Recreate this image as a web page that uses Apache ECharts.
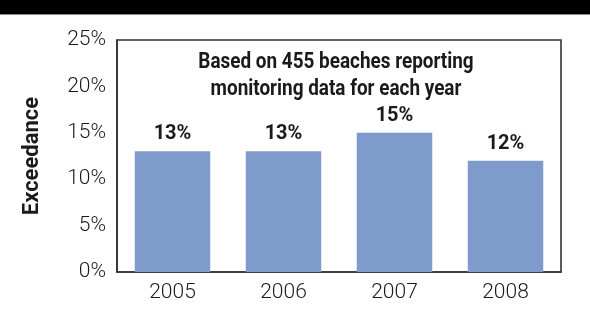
<!DOCTYPE html>
<html>
<head>
<meta charset="utf-8">
<script src="https://cdn.jsdelivr.net/npm/echarts@6/dist/echarts.min.js"></script>
<style>
  html, body { margin: 0; padding: 0; background: #fff; }
  #chart { width: 590px; height: 320px; }
</style>
</head>
<body>
<div id="chart"></div>
<script>
const years = ['2005', '2006', '2007', '2008'];
const exceedance = [13, 13, 15, 12];
const yTicks = { min: 0, max: 25, interval: 5 };
const noteLines = ['Based on 455 beaches reporting', 'monitoring data for each year'];

const chart = echarts.init(document.getElementById('chart'));
const grid = { left: 117, right: 29, top: 40, bottom: 48 };
const noteX = 336;

// Condensed bold note inside the plot, one text element per line
const noteGraphics = noteLines.map((line, i) => ({
  type: 'text',
  x: noteX, y: 62 + i * 27,
  scaleX: 0.86,
  style: {
    text: line, x: 0, y: 0,
    align: 'center', verticalAlign: 'middle',
    font: 'bold 22px Roboto', fill: '#1a1a1a'
  },
  z: 10
}));

chart.setOption({
  animation: false,
  grid: Object.assign({ show: true, borderColor: '#333', borderWidth: 1.6, backgroundColor: '#fff' }, grid),
  graphic: [
    { type: 'rect', left: 0, top: 0, shape: { width: 590, height: 14 }, style: { fill: '#000' } },
    { type: 'rect', left: 0, top: 14, shape: { width: 590, height: 1 }, style: { fill: '#888' } }
  ].concat(noteGraphics),
  xAxis: {
    type: 'category', data: years,
    axisLine: { show: true, lineStyle: { color: '#333', width: 1.6 } },
    axisTick: { show: false },
    axisLabel: { fontFamily: 'Roboto', fontWeight: 300, fontSize: 21, color: '#1a1a1a', margin: 10 }
  },
  yAxis: {
    type: 'value', min: yTicks.min, max: yTicks.max, interval: yTicks.interval,
    name: 'Exceedance', nameLocation: 'middle', nameGap: 74, nameRotate: 90,
    nameTextStyle: { fontFamily: 'Roboto', fontWeight: 'bold', fontSize: 22, color: '#1a1a1a' },
    axisLine: { show: true, lineStyle: { color: '#333', width: 1.6 } },
    axisTick: { show: false },
    splitLine: { show: false },
    axisLabel: { fontFamily: 'Roboto', fontWeight: 300, fontSize: 21, color: '#1a1a1a', margin: 11, formatter: '{value}%' }
  },
  series: [{
    type: 'bar', data: exceedance, barWidth: '68%',
    itemStyle: { color: '#7f9bcc' },
    label: {
      show: true, position: 'top', distance: 7, formatter: '{c}%',
      fontFamily: 'Roboto', fontWeight: 'bold', fontSize: 20, color: '#1a1a1a'
    }
  }]
});
</script>
</body>
</html>
